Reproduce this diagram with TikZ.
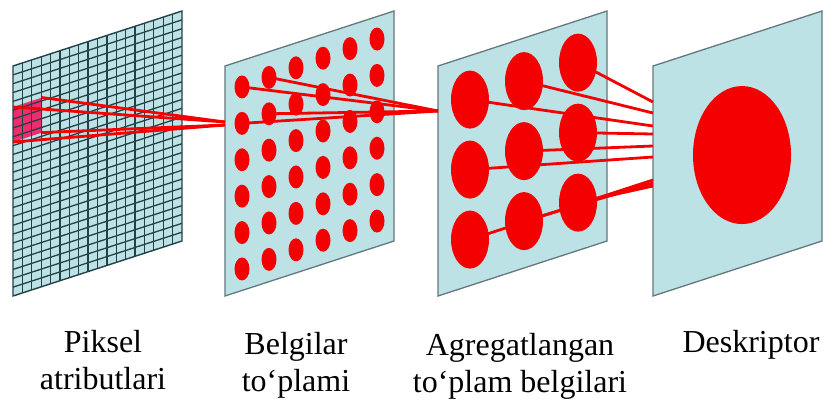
\documentclass[tikz,border=0pt]{standalone}
\usepackage{fontspec}
\setmainfont{Liberation Serif}
\usepackage{tikz}
\usetikzlibrary{positioning, calc, shapes.geometric}
\definecolor{planeblue}{RGB}{188, 226, 230}
\definecolor{planeedge}{RGB}{100, 120, 125}
\definecolor{gridink}{RGB}{35, 65, 70}
\definecolor{featred}{RGB}{245, 0, 0}
\definecolor{patchpink}{RGB}{238, 45, 110}

\begin{document}
\begin{tikzpicture}[x=1pt, y=-1pt,
    panel/.style={x={(1pt,0.3254pt)}, y={(0pt,-1pt)}},
    plane/.style={draw=planeedge, line width=1.3pt, fill=planeblue},
    blob/.style={ellipse, fill=featred, inner sep=0pt},
    link/.style={featred, line width=2.8pt},
    caption/.style={font=\fontsize{32}{37}\selectfont, align=center,
                    anchor=north, inner sep=0pt}]
  \useasboundingbox (0,0) rectangle (826,401);
  % ── Pixel grid ──
  \begin{scope}[shift={(13,66)}, panel]
    \fill[planeblue] (0,0) -- (169,0) -- (169,230) -- (0,230) -- cycle;
    \fill[patchpink] (0,41) -- (29,41) -- (29,76) -- (0,76) -- cycle;
    \foreach \k in {1,...,17}
      \draw[gridink, line width=1.3pt] ({\k*169/18},0) -- ({\k*169/18},230);
    \foreach \k in {1,...,25}
      \draw[gridink, line width=1.3pt] (0,{\k*230/26}) -- (169,{\k*230/26});
    \draw[gridink, line width=1.4pt]
      (0,0) -- (169,0) -- (169,230) -- (0,230) -- cycle;
    \coordinate (pa-1) at (0,41);
    \coordinate (pa-2) at (29,41);
    \coordinate (pa-3) at (29,76);
    \coordinate (pa-4) at (0,76);
  \end{scope}
  % ── Feature map ──
  \begin{scope}[shift={(225,66)}, panel]
    \draw[plane] (0,0) -- (169,0) -- (169,230) -- (0,230) -- cycle;
    \foreach \i in {1,...,6}
      \foreach \j in {1,...,6}
        \node[blob, minimum width=15pt, minimum height=23pt] (f-\i-\j)
          at ({17+27*(\i-1)}, {26.5+36.4*(\j-1)-0.8*(\i-1)}) {};
    \coordinate (f-in-1) at (0,56);
    \coordinate (f-in-2) at (0,59);
  \end{scope}
  % ── Aggregated map ──
  \begin{scope}[shift={(438,66)}, panel]
    \draw[plane] (0,0) -- (169,0) -- (169,230) -- (0,230) -- cycle;
    \foreach \i in {1,...,3}
      \foreach \j in {1,...,3}
        \node[blob, minimum width=38pt, minimum height=58pt] (a-\i-\j)
          at ({32+54*(\i-1)}, {44+70*(\j-1)-0.9*(\i-1)}) {};
    \coordinate (a-in) at (0,45);
  \end{scope}
  % ── Descriptor ──
  \begin{scope}[shift={(653,66)}, panel]
    \draw[plane] (0,0) -- (169,0) -- (169,230) -- (0,230) -- cycle;
    \node[blob, minimum width=98pt, minimum height=138pt] (desc)
      at (89,118) {};
    \coordinate (d-in-1) at (0,36);
    \coordinate (d-in-2) at (0,47);
    \coordinate (d-in-3) at (0,60);
    \coordinate (d-in-4) at (0,68);
    \coordinate (d-in-5) at (0,80);
    \coordinate (d-in-6) at (0,91);
    \coordinate (d-in-7) at (0,114);
    \coordinate (d-in-8) at (0,117);
    \coordinate (d-in-9) at (0,120);
  \end{scope}
  % ── Links ──
  \draw[link] (pa-1) -- (f-in-1);
  \draw[link] (pa-2) -- (f-in-1);
  \draw[link] (pa-3) -- (f-in-2);
  \draw[link] (pa-4) -- (f-in-2);
  \foreach \s in {f-1-1, f-2-1, f-1-2, f-2-2}
    \draw[link] (\s.center) -- (a-in);
  \foreach \s/\t in {a-3-1/1, a-2-1/2, a-1-1/3, a-3-2/4, a-2-2/5,
                     a-1-2/6, a-1-3/7, a-2-3/8, a-3-3/9}
    \draw[link] (\s.center) -- (d-in-\t);
  % ── Captions ──
  \node[caption] (cap-pix) at (103,330) {Piksel\\atributlari};
  \node[caption] (cap-feat) at (296,332) {Belgilar\\to‘plami};
  \node[caption] (cap-agg) at (520,333) {Agregatlangan\\to‘plam belgilari};
  \node[caption] (cap-desc) at (751,330) {Deskriptor};
\end{tikzpicture}
\end{document}
